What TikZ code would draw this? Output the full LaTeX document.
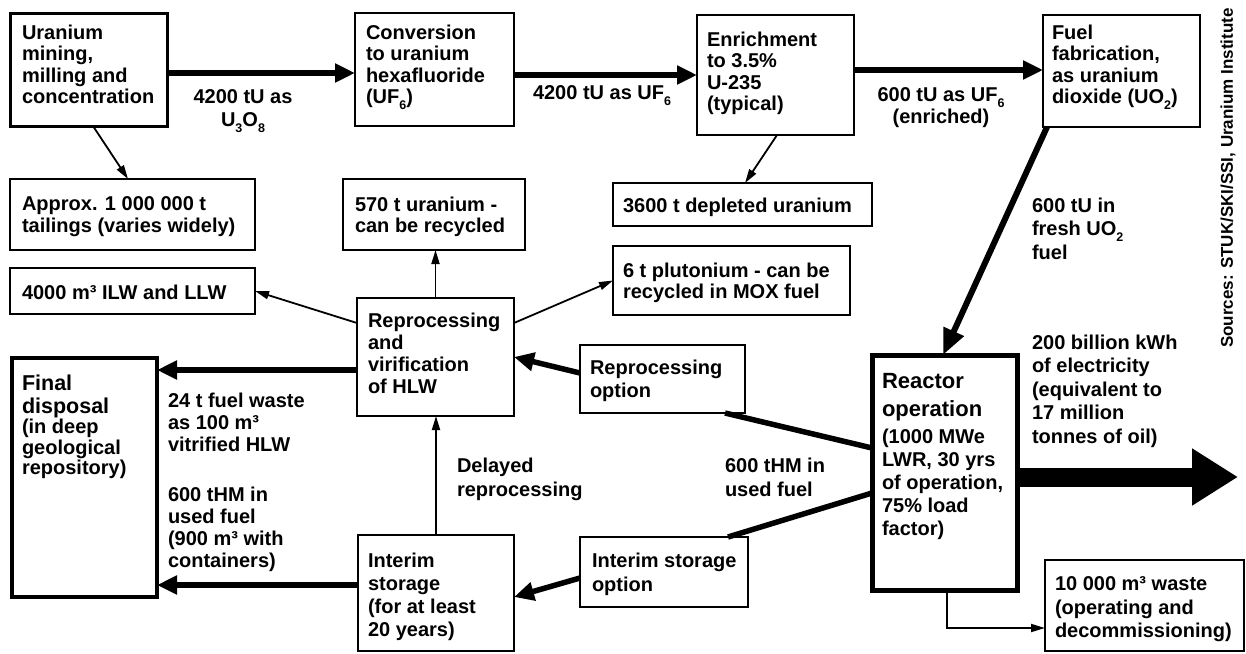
\documentclass[tikz,border=0pt]{standalone}
\usepackage{fontspec}
\setmainfont{Liberation Sans}
\usetikzlibrary{arrows.meta}
\newcommand\fs{\fontsize{20}{21.5}\selectfont\bfseries}
\newcommand\fsw{\fontsize{20}{23.5}\selectfont\bfseries}
\newcommand\sbx[1]{\raisebox{-0.3em}{\fontsize{12.5}{12.5}\selectfont #1}}
\begin{document}
\begin{tikzpicture}[x=1pt,y=-1pt,
 box/.style={draw, inner sep=0pt, outer sep=0pt, anchor=north west, line width=2pt},
 txt/.style={inner sep=0pt, outer sep=0pt, anchor=north west, align=left, font=\fs},
 conn/.style={line width=1.8pt, -{Triangle[length=14pt,width=8pt]}},
 heavy/.style={line width=5.5pt, -{Triangle[length=20pt,width=18pt]}},
 heavyline/.style={line width=5.5pt},
]
\useasboundingbox (0,0) rectangle (1246,653);
\fill[white] (0,0) rectangle (1246,653);

% boxes
\node[box, line width=3pt, minimum width=157pt, minimum height=113pt] (mine) at (10,13) {};
\node[box, line width=2.5pt, minimum width=159pt, minimum height=113pt] (conv) at (355,13) {};
\node[box, line width=2.5pt, minimum width=157pt, minimum height=120pt] (enr) at (697,15) {};
\node[box, line width=2.5pt, minimum width=157pt, minimum height=112pt] (fab) at (1043,15) {};
\node[box, minimum width=245pt, minimum height=71pt] (tail) at (10,179) {};
\node[box, minimum width=182pt, minimum height=71pt] (u570) at (343,179) {};
\node[box, minimum width=259pt, minimum height=43pt] (dep) at (613,183) {};
\node[box, minimum width=245pt, minimum height=46pt] (ilw) at (10,268) {};
\node[box, minimum width=237pt, minimum height=69pt] (pu) at (613,246) {};
\node[box, minimum width=157pt, minimum height=118pt] (repr) at (357,298) {};
\node[box, line width=4pt, minimum width=145pt, minimum height=239pt] (final) at (12,358) {};
\node[box, line width=2.5pt, minimum width=156pt, minimum height=116pt] (interim) at (358,535) {};
\node[box, minimum width=165pt, minimum height=68pt] (ropt) at (580,345) {};
\node[box, minimum width=168pt, minimum height=70pt] (iopt) at (580,537) {};
\node[box, line width=5pt, minimum width=145pt, minimum height=235pt] (reactor) at (872,355) {};
\node[box, minimum width=199pt, minimum height=91pt] (waste) at (1045,560) {};

% box texts
\node[txt] (mine-t) at (22,25) {Uranium\\mining,\\milling and\\concentration};
\node[txt] (conv-t) at (366,25) {Conversion\\to uranium\\hexafluoride\\(UF\sbx{6})};
\node[txt] (enr-t) at (707,32) {Enrichment\\to 3.5\%\\U-235\\(typical)};
\node[txt] (fab-t) at (1052,25) {Fuel\\fabrication,\\as uranium\\dioxide (UO\sbx{2})};
\node[txt] (tail-t) at (22,197) {Approx. 1 000 000 t\\tailings (varies widely)};
\node[txt] (u570-t) at (355,197) {570 t uranium -\\can be recycled};
\node[txt] (dep-t) at (623,198) {3600 t depleted uranium};
\node[txt] (ilw-t) at (22,285) {4000 m³ ILW and LLW};
\node[txt] (pu-t) at (623,263) {6 t plutonium - can be\\recycled in MOX fuel};
\node[txt, font=\fontsize{20}{22}\selectfont\bfseries] (repr-t) at (368,313) {Reprocessing\\and\\virification\\of HLW};
\node[txt, font=\fontsize{21.5}{23}\selectfont\bfseries] (final-t) at (22,375) {Final\\disposal};
\node[txt, font=\fontsize{20}{20.5}\selectfont\bfseries] (final-s) at (22,419) {(in deep\\geological\\repository)};
\node[txt, font=\fontsize{20}{23}\selectfont\bfseries] (interim-t) at (368,553) {Interim\\storage\\(for at least\\20 years)};
\node[txt, font=\fsw] (ropt-t) at (590,360) {Reprocessing\\option};
\node[txt, font=\fsw] (iopt-t) at (592,553) {Interim storage\\option};
\node[txt, font=\fontsize{22}{28}\selectfont\bfseries] (reactor-t) at (882,373) {Reactor\\operation};
\node[txt, font=\fontsize{20}{23}\selectfont\bfseries] (reactor-s) at (882,429) {(1000 MWe\\LWR, 30 yrs\\of operation,\\75\% load\\factor)};
\node[txt, font=\fsw] (waste-t) at (1055,577) {10 000 m³ waste\\(operating and\\decommissioning)};

% flow labels
\node[txt, anchor=north, align=center, font=\fontsize{20}{23}\selectfont\bfseries] (l1) at (243,90) {4200 tU as\\U\sbx{3}O\sbx{8}};
\node[txt] (l2) at (533,86) {4200 tU as UF\sbx{6}};
\node[txt, anchor=north, align=center, font=\fontsize{20}{20}\selectfont\bfseries] (l3) at (941,88) {600 tU as UF\sbx{6}\\(enriched)};
\node[txt, font=\fsw] (l4) at (1032,198) {600 tU in\\fresh UO\sbx{2}\\fuel};
\node[txt, font=\fsw] (l5) at (1032,335) {200 billion kWh\\of electricity\\(equivalent to\\17 million\\tonnes of oil)};
\node[txt, font=\fontsize{20}{22}\selectfont\bfseries] (l6) at (168,393) {24 t fuel waste\\as 100 m³\\vitrified HLW};
\node[txt, font=\fontsize{20}{22}\selectfont\bfseries] (l7) at (168,487) {600 tHM in\\used fuel\\(900 m³ with\\containers)};
\node[txt, font=\fsw] (l8) at (457,458) {Delayed\\reprocessing};
\node[txt, font=\fsw] (l9) at (725,458) {600 tHM in\\used fuel};

\node[inner sep=0pt, rotate=90, font=\fontsize{17}{17}\selectfont\bfseries] (src) at (1228,178) {Sources: STUK/SKI/SSI, Uranium Institute};

% main chain
\draw[heavy] ([yshift=-3.5pt]mine.east) -- ([yshift=-3.5pt]conv.west);
\draw[heavy] ([yshift=-5.5pt]conv.east) -- (enr.west);
\draw[heavy] ([yshift=5pt]enr.east) -- ([yshift=1pt]fab.west);
\draw[heavy, line width=6pt, -{Triangle[length=26pt,width=21pt]}] ([xshift=4pt]fab.south west) -- ([xshift=-1.5pt]reactor.north);

% side products
\draw[conn] ([xshift=4.5pt]mine.south) -- ([xshift=-4.5pt]tail.north);
\draw[conn] ([xshift=1.5pt]enr.south) -- ([xshift=2.5pt]dep.north);
\draw[conn] (repr.north) -- (repr.north |- u570.south);
\draw[conn] ([yshift=34pt]repr.west) -- (ilw.east);
\draw[conn] ([yshift=34pt]repr.east) -- (pu.west);

% back end
\coordinate (r1) at ([yshift=-13pt]repr.west);
\draw[heavy] (r1) -- (final.east |- r1);
\coordinate (i1) at ([yshift=8pt]interim.west);
\draw[heavy] (i1) -- (final.east |- i1);
\draw[conn] (interim.north) -- (interim.north |- repr.south);
\draw[heavy] ([yshift=6pt]ropt.west) -- (repr.east);
\draw[heavy] ([yshift=-6pt]iopt.west) -- ([yshift=-4pt]interim.east);
\draw[heavyline] ([yshift=24.5pt]reactor.west) -- ([xshift=-20pt]ropt.south east);
\draw[heavyline] ([yshift=-20.5pt]reactor.west) -- ([xshift=-20pt]iopt.north east);

% reactor outputs
\coordinate (elec) at (1238,477);
\draw[line width=19pt, -{Triangle[length=46pt,width=54pt]}] ([yshift=-4.5pt]reactor.east) -- (elec);
\draw[conn] ([xshift=2.5pt]reactor.south) |- ([yshift=-22.5pt]waste.west);
\end{tikzpicture}
\end{document}
